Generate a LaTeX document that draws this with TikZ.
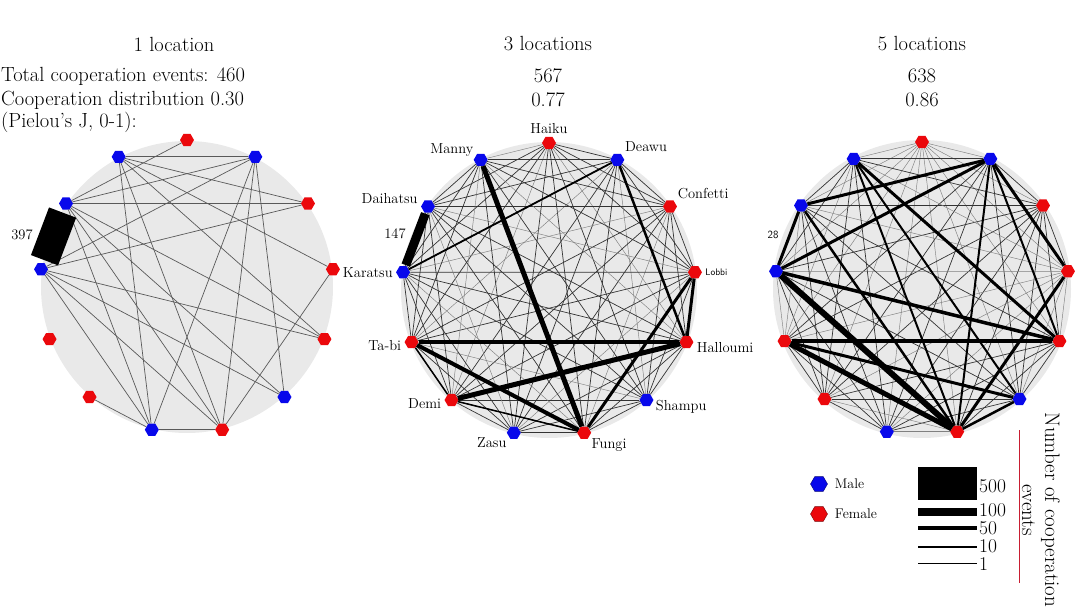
\documentclass[tikz,border=0pt]{standalone}
\usepackage{tikz}
\usetikzlibrary{shapes.geometric,positioning}

\definecolor{malecol}{RGB}{8,8,235}
\definecolor{femcol}{RGB}{235,8,12}
\definecolor{diskgray}{RGB}{233,233,233}
\definecolor{axisred}{RGB}{200,30,50}

\tikzset{
  hexnode/.style={regular polygon, regular polygon sides=6, minimum size=14pt, inner sep=0pt},
  lnk/.style={draw=black!80, line width=0.7pt},
  faint/.style={draw=black!50, line width=0.45pt},
  lbl/.style={font=\fontsize{14.5}{16}\selectfont, inner sep=3pt},
  big/.style={font=\fontsize{20.5}{24}\selectfont},
  num/.style={font=\fontsize{19.5}{21}\selectfont, inner sep=0pt, anchor=west},
}

\begin{document}
\begin{tikzpicture}[x=1pt,y=1pt]
\useasboundingbox (0,0) rectangle (1080,608);

\node[big] (loc1) at (174,564) {1 location};
\node[big] (loc3) at (548,564) {3 locations};
\node[big] (loc5) at (922,564) {5 locations};
\node[big, anchor=west, inner sep=1pt] (total) at (0,532) {Total cooperation events: 460};
\node[big, anchor=west, inner sep=1pt] (distr) at (0,508) {Cooperation distribution 0.30};
\node[big, anchor=west, inner sep=1pt] (pielou) at (0,486) {(Pielou's J, 0-1):};
\node[big] (total3) at (548,532) {567};
\node[big] (distr3) at (548,508) {0.77};
\node[big] (total5) at (922,532) {638};
\node[big] (distr5) at (922,508) {0.86};

% one location
\begin{scope}[shift={(187,321)}]
  \fill[diskgray] (0,0) circle (146);
  \foreach \k/\c in {0/femcol,1/malecol,2/femcol,3/femcol,4/femcol,5/malecol,6/femcol,7/malecol,8/femcol,9/femcol,10/malecol,11/malecol,12/malecol}
    \node[hexnode, fill=\c] (a\k) at (90-\k*360/13:147) {};
  \foreach \p/\q in {0/11,12/1,12/2,12/3,12/4,12/6,12/7,11/1,11/2,11/4,11/5,11/6,11/7,10/1,10/2,10/4,10/5,10/6,10/7,1/5,1/6,1/7,3/6,7/6,8/7}
    \draw[lnk, draw=black!65] (a\p) -- (a\q);
  \draw[line width=29pt, shorten <=3pt, shorten >=3pt] (a10) -- (a11);
\end{scope}
\node[lbl] (w397) at (22,373) {397};

% three locations
\begin{scope}[shift={(549,318)}]
  \fill[diskgray] (0,0) circle (148);
  \foreach \k/\c in {0/femcol,1/malecol,2/femcol,3/femcol,4/femcol,5/malecol,6/femcol,7/malecol,8/femcol,9/femcol,10/malecol,11/malecol,12/malecol}
    \node[hexnode, fill=\c] (b\k) at (90-\k*360/13:147) {};
  \foreach \p in {0,...,11}{
    \pgfmathtruncatemacro\s{\p+1}
    \foreach \q in {\s,...,12}{
      \pgfmathtruncatemacro\t{mod(3*\p+5*\q,4)}
      \ifnum\t=0 \draw[faint] (b\p) -- (b\q); \else \draw[lnk] (b\p) -- (b\q); \fi
    }
  }
  \foreach \p/\q/\w in {12/6/5,8/4/5,9/6/4,9/4/3.5,3/6/3,3/4/3,1/4/2.5,10/1/1.8,8/6/1.5,9/8/1.5}
    \draw[line width=\w pt] (b\p) -- (b\q);
  \draw[line width=9pt, shorten <=1pt, shorten >=1pt] (b10) -- (b11);
\end{scope}
\node[lbl] (haiku) [above=0pt of b0] {Haiku};
\node[lbl] (deawu) [above right=0pt of b1] {Deawu};
\node[lbl] (confetti) [above right=0pt of b2] {Confetti};
\node[lbl, font=\sffamily\fontsize{9.5}{10}\selectfont] (lobbi) [right=0pt of b3] {Lobbi};
\node[lbl] (halloumi) [right=0pt of b4, yshift=-5pt] {Halloumi};
\node[lbl] (shampu) [right=-1pt of b5, yshift=-7pt] {Shampu};
\node[lbl] (fungi) [right=-3pt of b6, yshift=-12pt] {Fungi};
\node[lbl] (zasu) [left=-3pt of b7, yshift=-10pt] {Zasu};
\node[lbl] (demi) [left=0pt of b8, yshift=-4pt] {Demi};
\node[lbl] (tabi) [left=0pt of b9, yshift=-3pt] {Ta-bi};
\node[lbl] (karatsu) [left=0pt of b10] {Karatsu};
\node[lbl] (daihatsu) [left=0pt of b11, yshift=8pt] {Daihatsu};
\node[lbl] (manny) [left=-3pt of b12, yshift=10pt] {Manny};
\node[lbl] (w147) at (395,374) {147};

% five locations
\begin{scope}[shift={(922,319)}]
  \fill[diskgray] (0,0) circle (149);
  \foreach \k/\c in {0/femcol,1/malecol,2/femcol,3/femcol,4/femcol,5/malecol,6/femcol,7/malecol,8/femcol,9/femcol,10/malecol,11/malecol,12/malecol}
    \node[hexnode, fill=\c] (c\k) at (90-\k*360/13:147) {};
  \foreach \p in {0,...,11}{
    \pgfmathtruncatemacro\s{\p+1}
    \foreach \q in {\s,...,12}{
      \pgfmathtruncatemacro\t{mod(5*\p+3*\q,3)}
      \ifnum\t=0 \draw[faint] (c\p) -- (c\q); \else \draw[lnk] (c\p) -- (c\q); \fi
    }
  }
  \foreach \p/\q/\w in {10/6/6,9/6/5,9/4/3.5,9/5/3,10/4/3.5,11/1/3,10/1/3,1/3/3,12/4/3,3/6/3,6/5/2.5,11/6/2.5,12/6/2,1/6/2,1/4/2,12/5/2}
    \draw[line width=\w pt] (c\p) -- (c\q);
  \draw[line width=3pt] (c10) -- (c11);
\end{scope}
\node[lbl, font=\sffamily\fontsize{11}{12}\selectfont] (w28) at (773,373) {28};

% legend
\node[hexnode, minimum size=17pt, fill=malecol, draw=malecol!50!black] (lgmale) at (819,124) {};
\node[hexnode, minimum size=17pt, fill=femcol, draw=femcol!50!black] (lgfem) at (819,94) {};
\node[lbl, font=\fontsize{14}{16}\selectfont] (tmale) [right=4pt of lgmale] {Male};
\node[lbl, font=\fontsize{14}{16}\selectfont] (tfem) [right=4pt of lgfem] {Female};

\fill (918,108) rectangle (977,141);
\draw[line width=8pt] (918,96) -- (977,96);
\draw[line width=4pt] (918,80) -- (977,80);
\draw[line width=2pt] (918,60.5) -- (977,60.5);
\draw[line width=0.8pt] (918,44.5) -- (977,44.5);
\node[num] (k500) at (979,122) {500};
\node[num] (k100) at (979,98) {100};
\node[num] (k50) at (979,80) {50};
\node[num] (k10) at (979,62) {10};
\node[num] (k1) at (979,44) {1};

\draw[axisred, line width=0.8pt] (1019,25) -- (1019,178);
\node[font=\fontsize{21}{23}\selectfont, rotate=-90, align=center] (axlbl) at (1041,98) {Number of cooperation\\events};
\end{tikzpicture}
\end{document}
